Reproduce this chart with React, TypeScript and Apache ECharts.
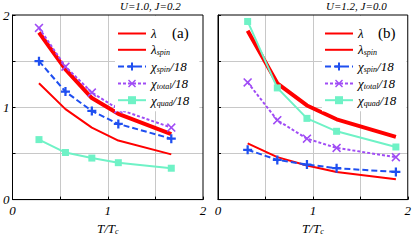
import React, { useEffect, useRef } from "react";
import * as echarts from "echarts";

// T/Tc positions
const xA = [0.278, 0.556, 0.833, 1.111, 1.667];
const xB = [0.3125, 0.625, 0.9375, 1.25, 1.875];

// panel (a): U=1.0, J=0.2
const lamA = [1.81, 1.41, 1.10, 0.93, 0.71];
const lamSpinA = [1.26, 0.98, 0.78, 0.64, 0.49];
const chiSpinA = [1.50, 1.17, 0.96, 0.82, 0.66];
const chiTotalA = [1.86, 1.44, 1.16, 0.98, 0.78];
const chiQuadA = [0.65, 0.51, 0.45, 0.40, 0.34];

// panel (b): U=1.2, J=0.0
const lamB = [1.83, 1.26, 1.02, 0.87, 0.68];
const lamSpinB = [0.61, 0.46, 0.37, 0.30, 0.22];
const chiSpinB = [0.54, 0.43, 0.38, 0.34, 0.30];
const chiTotalB = [1.27, 0.86, 0.66, 0.56, 0.46];
const chiQuadB = [1.93, 1.21, 0.88, 0.74, 0.57];

const seriesNames = ["lam", "lamSpin", "chiSpin", "chiTotal", "chiQuad"];
const legendLabels: Record<string, string> = {
  lam: "{i|λ}",
  lamSpin: "{i|λ}{s|spin}",
  chiSpin: "{i|χ}{s|spin}{i|/18}",
  chiTotal: "{i|χ}{s|total}{i|/18}",
  chiQuad: "{i|χ}{s|quad}{i|/18}",
};
const tickLabels = ["0", "1", "2"];

const SERIF = "'Liberation Serif', 'DejaVu Serif', serif";
const RED = "#ff0000";
const BLUE = "#1f4ff0";
const PURPLE = "#a04cf5";
const AQUA = "#6ff2c6";
const NONE = "rgba(0,0,0,0)";
const PLUS = "path://M3,0h2v3h3v2h-3v3h-2v-3h-3v-2h3z";
const CROSS = "path://M1,0L4,3L7,0L8,1L5,4L8,7L7,8L4,5L1,8L0,7L3,4L0,1Z";

const pairs = (xs: number[], ys: number[]) => xs.map((x, i) => [x, ys[i]]);

function makeSeries(idx: number, xs: number[], vals: number[][]) {
  const base = { xAxisIndex: idx, yAxisIndex: idx, type: "line" as const };
  return [
    { ...base, name: "lam", data: pairs(xs, vals[0]), showSymbol: false, symbol: "circle",
      lineStyle: { color: RED, width: 4 }, itemStyle: { color: NONE, borderColor: NONE }, z: 3 },
    { ...base, name: "lamSpin", data: pairs(xs, vals[1]), showSymbol: false, symbol: "circle",
      lineStyle: { color: RED, width: 2 }, itemStyle: { color: NONE, borderColor: NONE }, z: 3 },
    { ...base, name: "chiSpin", data: pairs(xs, vals[2]), symbol: PLUS, symbolSize: 9,
      lineStyle: { color: BLUE, width: 2, type: [6, 3] }, itemStyle: { color: BLUE }, z: 4 },
    { ...base, name: "chiTotal", data: pairs(xs, vals[3]), symbol: CROSS, symbolSize: 9,
      lineStyle: { color: PURPLE, width: 2, type: [3, 2] }, itemStyle: { color: PURPLE }, z: 4 },
    { ...base, name: "chiQuad", data: pairs(xs, vals[4]), symbol: "rect", symbolSize: 7,
      lineStyle: { color: AQUA, width: 2 }, itemStyle: { color: AQUA }, z: 4 },
  ];
}

const richText = {
  i: { fontFamily: SERIF, fontStyle: "italic", fontSize: 13, color: "#000", lineHeight: 14 },
  s: { fontFamily: SERIF, fontStyle: "italic", fontSize: 8, color: "#000", verticalAlign: "bottom", lineHeight: 14, padding: [5, 0, 0, 0] },
};

function xAxisCfg(idx: number) {
  return {
    gridIndex: idx, type: "value", min: 0, max: 2, interval: 0.5,
    axisLine: { show: true, lineStyle: { color: "#000", width: 1 } },
    axisTick: { show: true, inside: true, length: 3, lineStyle: { color: "#000" } },
    splitLine: { show: true, showMinLine: false, showMaxLine: false, lineStyle: { color: "#c8c8c8", width: 1 } },
    axisLabel: {
      margin: 4, fontFamily: SERIF, fontStyle: "italic", fontSize: 13, color: "#000",
      formatter: (v: number) => (Number.isInteger(v) ? tickLabels[v] : ""),
    },
    name: "{i|T/T}{s|c}", nameLocation: "middle", nameGap: 21,
    nameTextStyle: { rich: richText },
  };
}

function yAxisCfg(idx: number, showLabels: boolean) {
  return {
    gridIndex: idx, type: "value", min: 0, max: 2, interval: 0.5,
    axisLine: { show: true, lineStyle: { color: "#000", width: 1 } },
    axisTick: { show: true, inside: true, length: 3, lineStyle: { color: "#000" } },
    splitLine: { show: true, showMinLine: false, showMaxLine: false, lineStyle: { color: "#c8c8c8", width: 1 } },
    axisLabel: {
      show: showLabels, margin: 3, fontFamily: SERIF, fontStyle: "italic", fontSize: 13, color: "#000",
      formatter: (v: number) => (Number.isInteger(v) ? tickLabels[v] : ""),
    },
  };
}

function legendCfg(left: number) {
  return {
    left, top: 16, orient: "vertical", itemWidth: 28, itemHeight: 10, itemGap: 3.3,
    backgroundColor: "#fff", padding: [11, 10, 4, 2], z: 5,
    data: seriesNames, selectedMode: false,
    formatter: (n: string) => legendLabels[n],
    textStyle: { rich: richText, padding: [0, 0, 0, 0] },
  };
}

export default function App() {
  const ref = useRef<HTMLDivElement>(null);
  useEffect(() => {
    if (!ref.current) return;
    const chart = echarts.init(ref.current, undefined, { renderer: "svg" });
    chart.setOption({
      animation: false,
      backgroundColor: "#fff",
      grid: [
        { left: 11, top: 15, width: 192, height: 193, show: true, borderColor: "#000", borderWidth: 1, backgroundColor: "transparent", z: 2 },
        { left: 218, top: 15, width: 192, height: 193, show: true, borderColor: "#000", borderWidth: 1, backgroundColor: "transparent", z: 2 },
      ],
      xAxis: [xAxisCfg(0), xAxisCfg(1)],
      yAxis: [yAxisCfg(0, true), yAxisCfg(1, false)],
      legend: [legendCfg(115), legendCfg(322)],
      series: [
        ...makeSeries(0, xA, [lamA, lamSpinA, chiSpinA, chiTotalA, chiQuadA]),
        ...makeSeries(1, xB, [lamB, lamSpinB, chiSpinB, chiTotalB, chiQuadB]),
      ],
      graphic: [
        { type: "text", left: 120, top: 0, z: 10, style: { text: "U=1.0, J=0.2", font: `italic 11px ${SERIF}`, fill: "#000" } },
        { type: "text", left: 326, top: 0, z: 10, style: { text: "U=1.2, J=0.0", font: `italic 11px ${SERIF}`, fill: "#000" } },
        { type: "text", left: 172, top: 25, z: 10, style: { text: "(a)", font: `15px ${SERIF}`, fill: "#000" } },
        { type: "text", left: 378, top: 25, z: 10, style: { text: "(b)", font: `15px ${SERIF}`, fill: "#000" } },
      ],
    });
    return () => chart.dispose();
  }, []);
  return <div ref={ref} style={{ position: "fixed", left: 0, top: 0, width: 414, height: 240 }} />;
}
